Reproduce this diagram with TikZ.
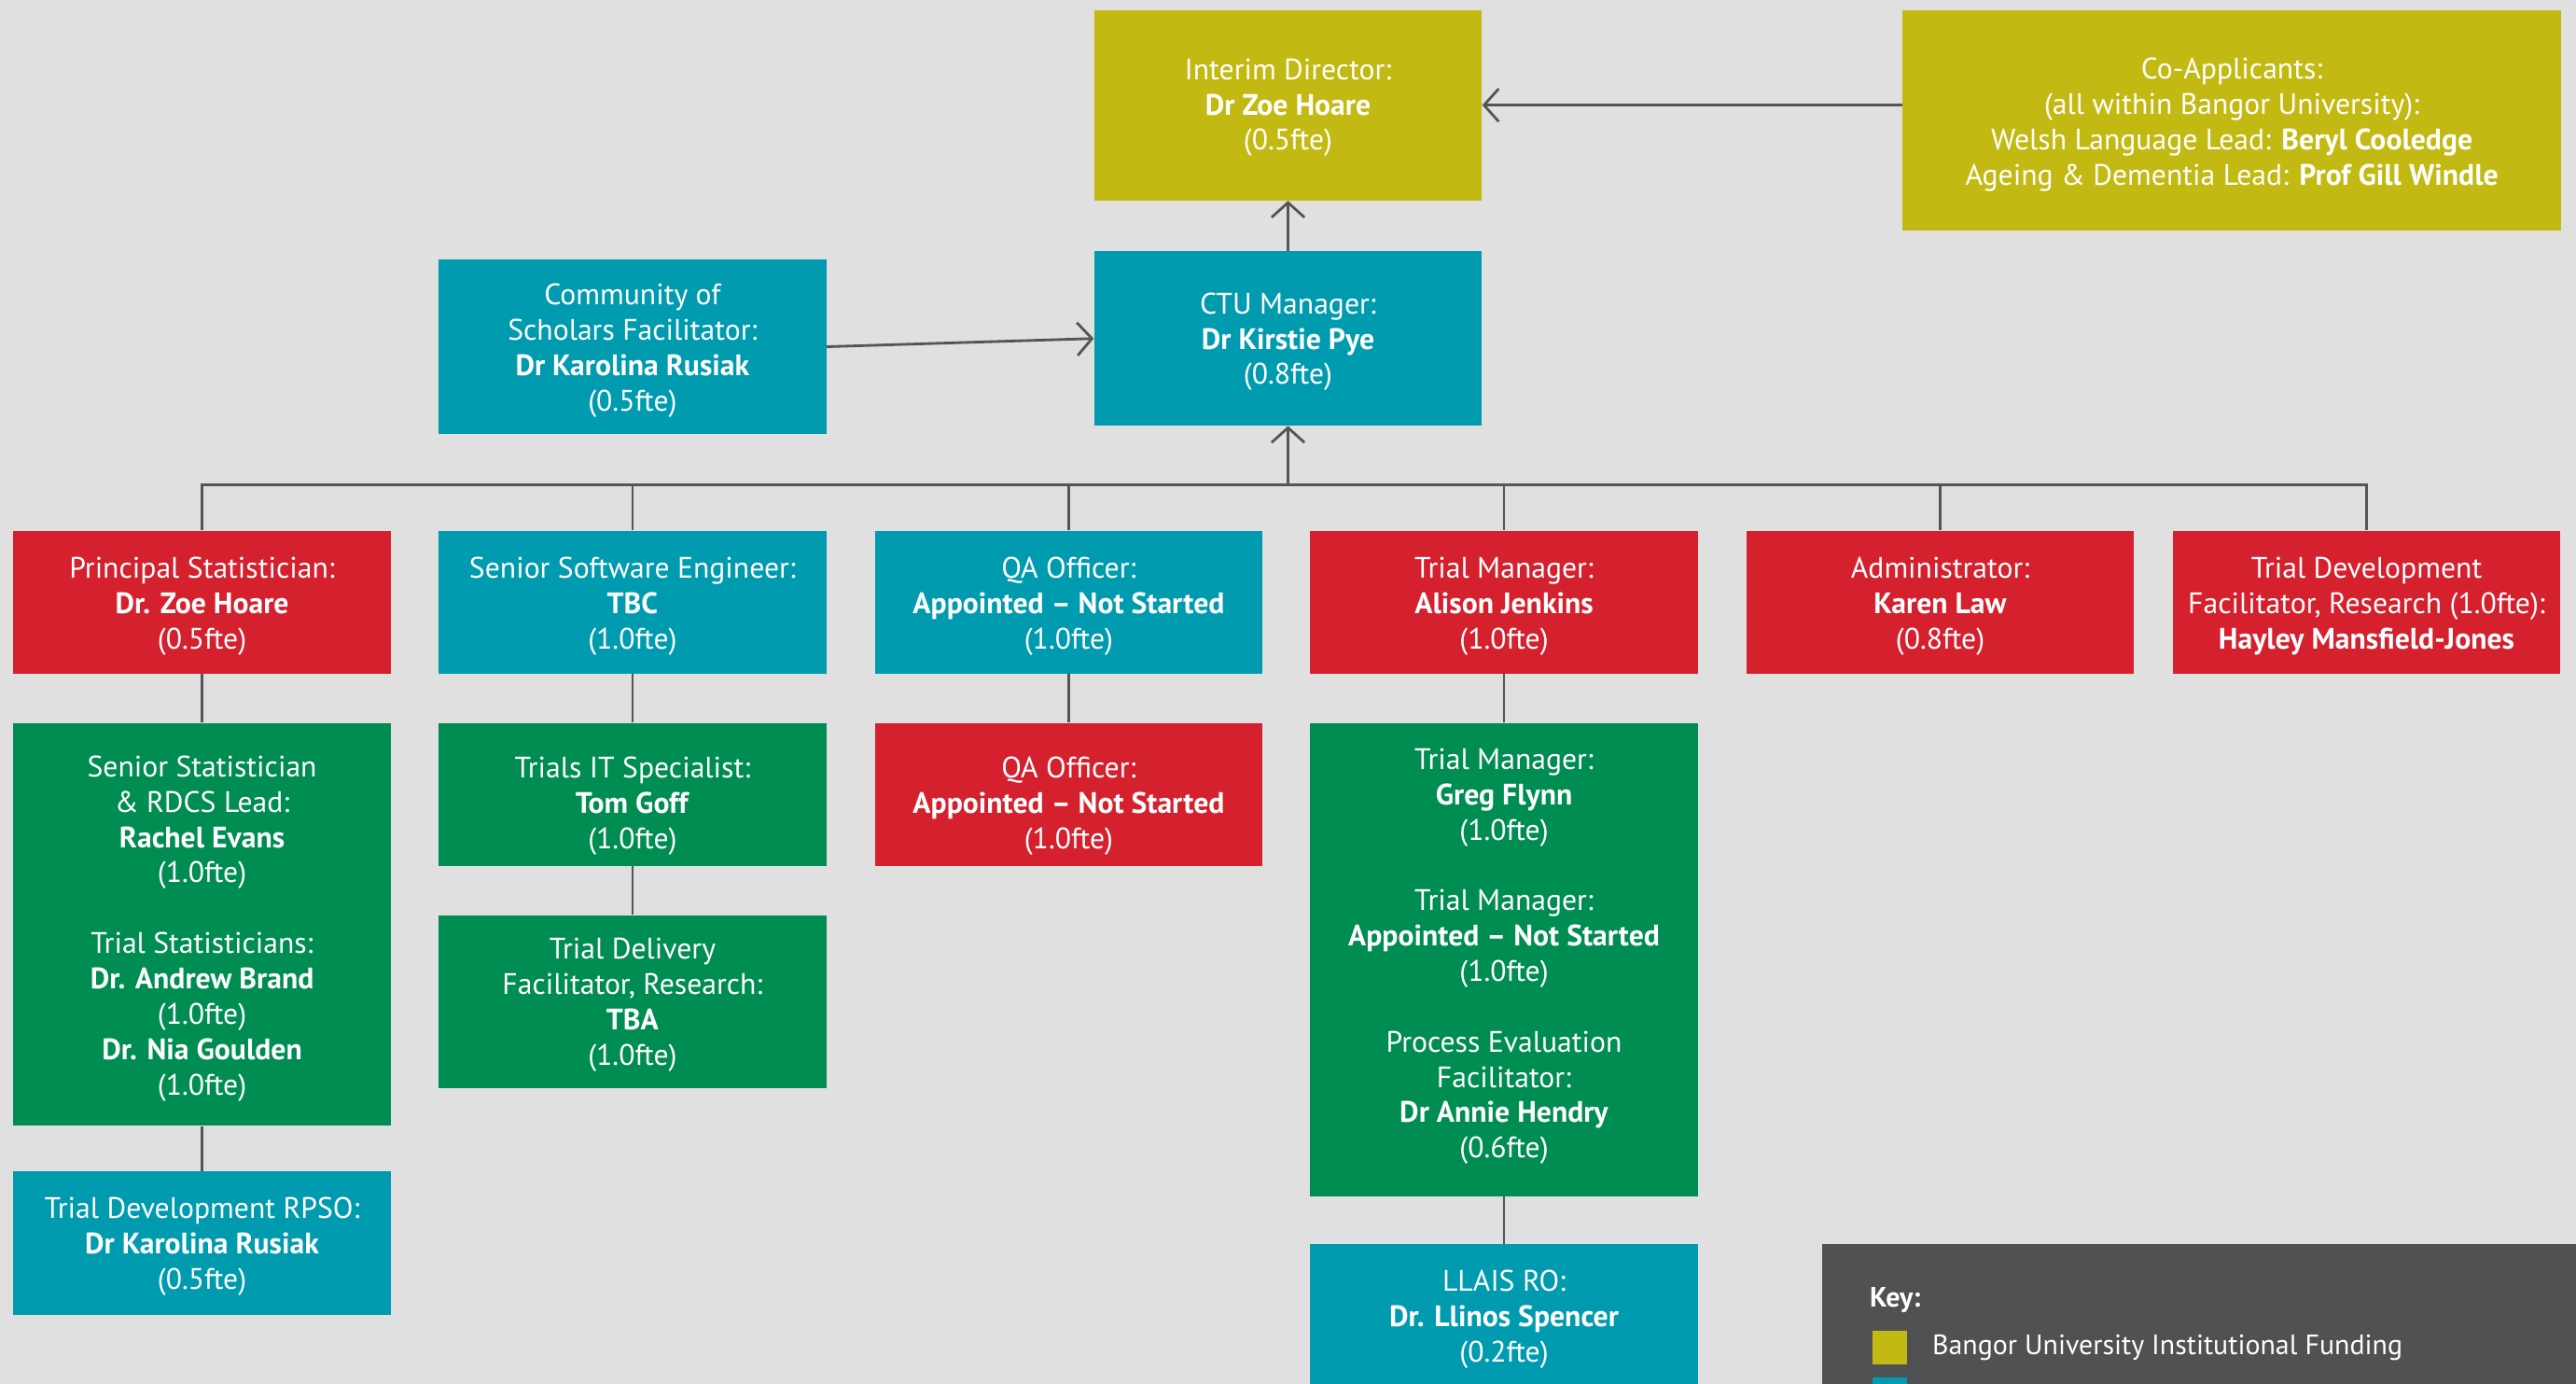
\documentclass[tikz,border=0pt]{standalone}
\usepackage{fontspec}
\setmainfont{PT Sans}
\usetikzlibrary{arrows.meta,calc}
\definecolor{bg}{HTML}{E0E0E0}
\definecolor{olive}{HTML}{C2B912}
\definecolor{teal}{HTML}{009BAE}
\definecolor{redb}{HTML}{D5202E}
\definecolor{greenb}{HTML}{008D52}
\definecolor{linec}{HTML}{555555}
\definecolor{keybg}{HTML}{505153}
\tikzset{
  box/.style={inner sep=0pt, minimum width=236pt},
  txt/.style={inner sep=0pt, align=center, text=white,
    font=\fontsize{18}{21.5}\selectfont},
  olivebox/.style={box, fill=olive},
  tealbox/.style={box, fill=teal},
  redbox/.style={box, fill=redb},
  greenbox/.style={box, fill=greenb},
  conn/.style={draw=linec, line width=1.6pt},
  arr/.style={conn, -{Straight Barb[length=9pt,width=20pt,line width=1.6pt]}},
  keytxt/.style={anchor=west, text=white, inner sep=0pt, font=\fontsize{17}{21.5}\selectfont},
}
\begin{document}
\begin{tikzpicture}[x=1pt,y=-1pt]
\useasboundingbox (0,0) rectangle (1568,842);
\clip (0,0) rectangle (1568,842);
\fill[bg] (0,0) rectangle (1568,842);

% top
\node[olivebox, minimum height=116pt] (dir) at (784,64) {};
\node[txt] (dirt) at ($(dir.center)+(0,1.5)$) {Interim Director:\\ \textbf{Dr Zoe Hoare}\\ (0.5fte)};
\node[olivebox, minimum width=401pt, minimum height=134pt] (coapp) at (1358.5,73) {};
\node[txt] (coappt) at ($(coapp.center)+(0,3)$) {Co-Applicants:\\ (all within Bangor University):\\ Welsh Language Lead: \textbf{Beryl Cooledge}\\ Ageing \& Dementia Lead: \textbf{Prof Gill Windle}};
\node[tealbox, minimum height=106pt] (ctu) at (784,206) {};
\node[txt] (ctut) at ($(ctu.center)+(0,2)$) {CTU Manager:\\ \textbf{Dr Kirstie Pye}\\ (0.8fte)};
\node[tealbox, minimum height=106pt] (cos) at (385,211) {};
\node[txt] (cost) at ($(cos.center)+(0,2.5)$) {Community of\\ Scholars Facilitator:\\ \textbf{Dr Karolina Rusiak}\\ (0.5fte)};

% row 1
\node[redbox, minimum width=230pt, minimum height=87pt] (ps) at (123,366.5) {};
\node[txt] (pst) at ($(ps.center)+(0,2.5)$) {Principal Statistician:\\ \textbf{Dr. Zoe Hoare}\\ (0.5fte)};
\node[tealbox, minimum height=87pt] (sse) at (385,366.5) {};
\node[txt] (sset) at ($(sse.center)+(0,2.5)$) {Senior Software Engineer:\\ \textbf{TBC}\\ (1.0fte)};
\node[tealbox, minimum height=87pt] (qa) at (650.5,366.5) {};
\node[txt] (qat) at ($(qa.center)+(0,2.5)$) {QA Officer:\\ \textbf{Appointed – Not Started}\\ (1.0fte)};
\node[redbox, minimum height=87pt] (tm) at (915.5,366.5) {};
\node[txt] (tmt) at ($(tm.center)+(0,2.5)$) {Trial Manager:\\ \textbf{Alison Jenkins}\\ (1.0fte)};
\node[redbox, minimum height=87pt] (adm) at (1181,366.5) {};
\node[txt] (admt) at ($(adm.center)+(0,2.5)$) {Administrator:\\ \textbf{Karen Law}\\ (0.8fte)};
\node[redbox, minimum height=87pt] (tdf) at (1440.5,366.5) {};
\node[txt] (tdft) at ($(tdf.center)+(0,2.5)$) {Trial Development\\ Facilitator, Research (1.0fte):\\ \textbf{Hayley Mansfield-Jones}};

% level 2
\node[greenbox, minimum width=230pt, minimum height=245pt] (ssg) at (123,562.5) {};
\node[txt] (ssgt) at ($(ssg.center)+(0,2.5)$) {Senior Statistician\\ \& RDCS Lead:\\ \textbf{Rachel Evans}\\ (1.0fte)\\[21.5pt] Trial Statisticians:\\ \textbf{Dr. Andrew Brand}\\ (1.0fte)\\ \textbf{Dr. Nia Goulden}\\ (1.0fte)};
\node[greenbox, minimum height=87pt] (tits) at (385,483.5) {};
\node[txt] (titst) at ($(tits.center)+(0,7)$) {Trials IT Specialist:\\ \textbf{Tom Goff}\\ (1.0fte)};
\node[greenbox, minimum height=105pt] (tdel) at (385,609.5) {};
\node[txt] (tdelt) at ($(tdel.center)+(0,2)$) {Trial Delivery\\ Facilitator, Research:\\ \textbf{TBA}\\ (1.0fte)};
\node[redbox, minimum height=87pt] (qa2) at (650.5,483.5) {};
\node[txt] (qa2t) at ($(qa2.center)+(0,7)$) {QA Officer:\\ \textbf{Appointed – Not Started}\\ (1.0fte)};
\node[greenbox, minimum height=288pt] (tmg) at (915.5,584) {};
\node[txt] (tmgt) at ($(tmg.center)+(0,-2)$) {Trial Manager:\\ \textbf{Greg Flynn}\\ (1.0fte)\\[21.5pt] Trial Manager:\\ \textbf{Appointed – Not Started}\\ (1.0fte)\\[21.5pt] Process Evaluation\\ Facilitator:\\ \textbf{Dr Annie Hendry}\\ (0.6fte)};
\node[tealbox, minimum width=230pt, minimum height=87pt] (rpso) at (123,756.5) {};
\node[txt] (rpsot) at ($(rpso.center)+(0,2)$) {Trial Development RPSO:\\ \textbf{Dr Karolina Rusiak}\\ (0.5fte)};
\node[tealbox, minimum height=87pt] (llais) at (915.5,800.5) {};
\node[txt] (llaist) at ($(llais.center)+(0,2.5)$) {LLAIS RO:\\ \textbf{Dr. Llinos Spencer}\\ (0.2fte)};

% key
\fill[keybg] (1109,757) rectangle (1600,900);
\node[keytxt, font=\fontsize{17}{21.5}\selectfont\bfseries] (keyt) at (1138,791) {Key:};
\node[fill=olive, minimum width=21pt, minimum height=20pt, inner sep=0pt] (k1) at (1150.5,820) {};
\node[keytxt] (k1t) at (1176,820) {Bangor University Institutional Funding};
\node[fill=teal, minimum width=21pt, minimum height=20pt, inner sep=0pt] (k2) at (1150.5,848) {};

% connectors
\coordinate (bus) at (0,295);
\draw[arr] (dir.east -| coapp.west) -- (dir.east);
\draw[arr] (ctu.north) -- (dir.south);
\draw[arr] (cos.east) -- (ctu.west);
\draw[conn] (ps.north) -- (ps.north |- bus) -- (tdf.north |- bus) -- (tdf.north);
\draw[conn] (sse.north |- bus) -- (sse.north);
\draw[conn] (qa.north |- bus) -- (qa.north);
\draw[conn] (tm.north |- bus) -- (tm.north);
\draw[conn] (adm.north |- bus) -- (adm.north);
\draw[arr] (ctu.south |- bus) -- (ctu.south);
\draw[conn] (ps.south) -- (ssg.north);
\draw[conn] (ssg.south) -- (rpso.north);
\draw[conn] (sse.south) -- (tits.north);
\draw[conn] (tits.south) -- (tdel.north);
\draw[conn] (qa.south) -- (qa2.north);
\draw[conn] (tm.south) -- (tmg.north);
\draw[conn] (tmg.south) -- (llais.north);
\end{tikzpicture}
\end{document}
